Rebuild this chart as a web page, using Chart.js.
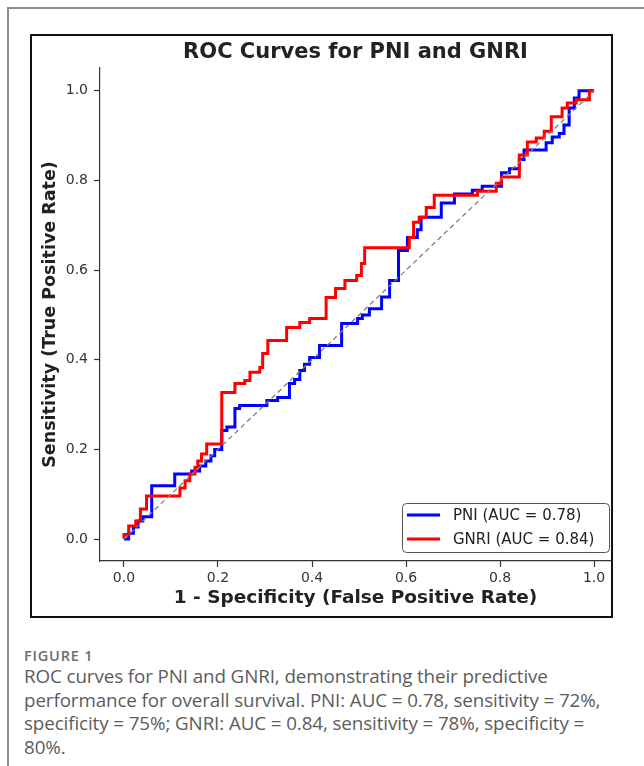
<!DOCTYPE html>
<html>
<head>
<meta charset="utf-8">
<script src="https://cdn.jsdelivr.net/npm/chart.js@4/dist/chart.umd.min.js"></script>
<style>
	html, body { margin: 0; padding: 0; background: #fff; }
	body { width: 644px; height: 766px; position: relative; overflow: hidden; }
	#card { position: absolute; left: 7px; top: 7px; right: 0; bottom: 0; border-left: 2px solid #8c8c8c; border-top: 2px solid #8c8c8c; }
	#box { position: absolute; left: 30px; top: 34px; width: 583px; height: 584px; box-sizing: border-box; border: 2px solid #111; }
	#wrap { position: absolute; left: 0; top: 0; width: 579px; height: 580px; }
	#caption { position: absolute; left: 24px; top: 644px; width: 620px; font-family: "Open Sans", "Noto Sans", sans-serif; color: #5c5c5c; white-space: nowrap; }
	#caption .fig { font-size: 14.5px; font-weight: 600; color: #6b6b6b; line-height: 24px; letter-spacing: 0.8px; margin-bottom: -3px; }
	#caption .txt { font-size: 18.8px; line-height: 23.7px; letter-spacing: -0.1px; }
</style>
</head>
<body>
<div id="card"></div>
<div id="box"><div id="wrap"><canvas id="myChart"></canvas></div></div>
<div id="caption">
	<div class="fig">FIGURE 1</div>
	<div class="txt">ROC curves for PNI and GNRI, demonstrating their predictive<br>performance for overall survival. PNI: AUC = 0.78, sensitivity = 72%,<br>specificity = 75%; GNRI: AUC = 0.84, sensitivity = 78%, specificity =<br>80%.</div>
</div>
<script>
// ROC points (fpr, tpr)
const pniFpr = [0, 0.01, 0.02, 0.03, 0.04, 0.059, 0.108, 0.144, 0.161, 0.174, 0.185, 0.193, 0.208, 0.219, 0.236, 0.246, 0.304, 0.327, 0.352, 0.363, 0.374, 0.384, 0.395, 0.416, 0.463, 0.497, 0.507, 0.522, 0.548, 0.565, 0.584, 0.603, 0.624, 0.632, 0.675, 0.703, 0.741, 0.762, 0.803, 0.82, 0.841, 0.851, 0.898, 0.911, 0.926, 0.936, 0.947, 0.958, 0.968, 1.0];
const pniTpr = [0, 0.013, 0.027, 0.04, 0.05, 0.119, 0.145, 0.152, 0.163, 0.174, 0.186, 0.2, 0.242, 0.25, 0.291, 0.298, 0.309, 0.316, 0.347, 0.356, 0.376, 0.39, 0.405, 0.432, 0.481, 0.492, 0.5, 0.514, 0.54, 0.577, 0.644, 0.673, 0.69, 0.718, 0.75, 0.77, 0.778, 0.787, 0.817, 0.826, 0.847, 0.868, 0.884, 0.897, 0.905, 0.924, 0.962, 0.984, 1.0, 1.0];

const gnriFpr = [0, 0, 0.01, 0.025, 0.035, 0.048, 0.119, 0.13, 0.14, 0.151, 0.157, 0.165, 0.176, 0.208, 0.236, 0.257, 0.268, 0.289, 0.295, 0.306, 0.346, 0.374, 0.395, 0.43, 0.45, 0.47, 0.495, 0.505, 0.512, 0.607, 0.616, 0.628, 0.643, 0.66, 0.752, 0.792, 0.803, 0.841, 0.858, 0.877, 0.894, 0.909, 0.932, 0.943, 0.962, 0.99, 1.0];
const gnriTpr = [0, 0.01, 0.029, 0.04, 0.067, 0.096, 0.114, 0.13, 0.145, 0.16, 0.174, 0.19, 0.212, 0.327, 0.347, 0.354, 0.372, 0.383, 0.414, 0.443, 0.472, 0.483, 0.492, 0.539, 0.559, 0.577, 0.588, 0.615, 0.65, 0.673, 0.707, 0.718, 0.74, 0.767, 0.776, 0.794, 0.808, 0.857, 0.886, 0.895, 0.91, 0.942, 0.962, 0.973, 0.98, 1.0, 1.0];

const chanceX = [0, 1];
const chanceY = [0, 1];

const xTicks = [0.0, 0.2, 0.4, 0.6, 0.8, 1.0];
const yTicks = [0.0, 0.2, 0.4, 0.6, 0.8, 1.0];

const seriesLabels = ["PNI (AUC = 0.78)", "GNRI (AUC = 0.84)"];

function pts(xs, ys) {
	return xs.map((x, i) => ({ x: x, y: ys[i] }));
}

const FONT = "'DejaVu Sans', sans-serif";

// legend drawn inside the plot, lower right (matplotlib style)
const innerLegend = {
	id: "innerLegend",
	afterDraw(chart) {
		const ctx = chart.ctx;
		const x0 = 370, y0 = 467, w = 207, h = 49;
		ctx.save();
		ctx.fillStyle = "rgba(255,255,255,0.85)";
		ctx.strokeStyle = "#555";
		ctx.lineWidth = 1;
		ctx.beginPath();
		ctx.roundRect(x0 + 0.5, y0 + 0.5, w, h, 4);
		ctx.fill();
		ctx.stroke();
		ctx.font = "15px " + FONT;
		ctx.textBaseline = "middle";
		chart.data.datasets.slice(0, 2).forEach((ds, i) => {
			const yy = y0 + 12 + i * 24;
			ctx.strokeStyle = ds.borderColor;
			ctx.lineWidth = 3;
			ctx.beginPath();
			ctx.moveTo(x0 + 5, yy);
			ctx.lineTo(x0 + 38, yy);
			ctx.stroke();
			ctx.fillStyle = "#222";
			ctx.fillText(ds.label, x0 + 51, yy + 1);
		});
		ctx.restore();
	},
};

window.addEventListener(
	"load",
	function () {
		const data = {
			datasets: [
				{
					label: seriesLabels[0],
					data: pts(pniFpr, pniTpr),
					borderColor: "#0000ff",
					borderWidth: 3,
					stepped: "before",
					order: 2,
				},
				{
					label: seriesLabels[1],
					data: pts(gnriFpr, gnriTpr),
					borderColor: "#ff0000",
					borderWidth: 3,
					stepped: "before",
					order: 1,
				},
				{
					label: "chance",
					data: pts(chanceX, chanceY),
					borderColor: "#808080",
					borderWidth: 1.3,
					borderDash: [5, 3.5],
					order: 0,
				},
			],
		};

		const config = {
			type: "scatter",
			data: data,
			options: {
				responsive: true,
				maintainAspectRatio: false,
				animation: false,
				showLine: true,
				layout: { padding: 0 },
				elements: {
					point: { radius: 0, hoverRadius: 0 },
					line: { borderJoinStyle: "miter", borderCapStyle: "butt", fill: false, tension: 0 },
				},
				plugins: {
					legend: { display: false },
					tooltip: { enabled: false },
					title: {
						display: true,
						fullSize: false,
						text: "ROC Curves for PNI and GNRI",
						color: "#222",
						font: { family: FONT, size: 21, weight: "bold" },
						padding: { top: 3.5, bottom: 3.3 },
					},
				},
				scales: {
					x: {
						type: "linear",
						min: -0.051,
						max: 1.036,
						afterBuildTicks: (s) => { s.ticks = xTicks.map((v) => ({ value: v })); },
						afterFit: (s) => { s.height = 55; },
						ticks: {
							color: "#333",
							font: { family: FONT, size: 14 },
							padding: 3,
							maxRotation: 0,
							callback: (v) => v.toFixed(1),
						},
						grid: { display: true, drawOnChartArea: false, drawTicks: true, tickLength: 6, color: "#333", tickWidth: 1.2 },
						border: { display: true, color: "#333", width: 1.2 },
						title: {
							display: true,
							text: "1 - Specificity (False Positive Rate)",
							color: "#222",
							font: { family: FONT, size: 18.5, weight: "bold" },
							padding: { top: 0, bottom: 7 },
						},
					},
					y: {
						type: "linear",
						min: -0.049,
						max: 1.051,
						afterBuildTicks: (s) => { s.ticks = yTicks.map((v) => ({ value: v })); },
						afterFit: (s) => { s.width = 68; },
						ticks: {
							color: "#333",
							font: { family: FONT, size: 14 },
							padding: 6,
							callback: (v) => v.toFixed(1),
						},
						grid: { display: true, drawOnChartArea: false, drawTicks: true, tickLength: 6, color: "#333", tickWidth: 1.2 },
						border: { display: true, color: "#333", width: 1.2 },
						title: {
							display: true,
							text: "Sensitivity (True Positive Rate)",
							color: "#222",
							font: { family: FONT, size: 17.5, weight: "bold" },
							padding: { top: 7.5, bottom: 0 },
						},
					},
				},
			},
			plugins: [innerLegend],
		};

		//load
		const myChart = new Chart(document.getElementById("myChart"), config);
	},
	false
);
</script>
</body>
</html>
